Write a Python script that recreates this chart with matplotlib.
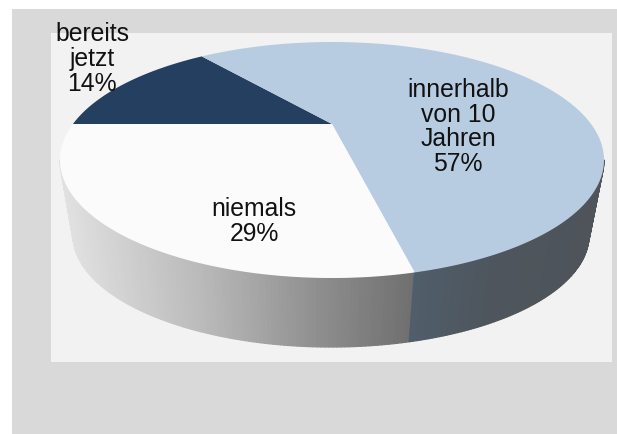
import matplotlib
matplotlib.use("Agg")
import matplotlib.pyplot as plt
from matplotlib.collections import PolyCollection
from matplotlib.patches import Rectangle
import numpy as np

plt.rcParams['font.family'] = ['Liberation Sans', 'DejaVu Sans']

# shares, clockwise starting from the left edge of the pie
labels = ["bereits\njetzt", "innerhalb\nvon 10\nJahren", "niemals"]
values = [14.3, 57.1, 28.6]
colors = ["#243f60", "#b7cce1", "#fbfbfb"]

# where the labels sit, in pixels
label_x = [92, 458, 254]
label_y = [59, 127, 221.5]

# ellipses of the top face and the bottom rim, in pixels
top = (332, 160, 272, 118)
bottom = (331, 235, 258, 112)
tilt = 0.305


def flat_to_face(ang):
    # angle on the round pie -> point on the tilted top face (unit circle)
    x, y = np.cos(ang), np.sin(ang)
    d = 1 + tilt*y
    return x*np.sqrt(1 - tilt**2)/d, (y + tilt)/d


def ell(e, x, y):
    return e[0] + e[2]*x, e[1] - e[3]*y


fig = plt.figure(figsize=(6.17, 4.34), dpi=100, facecolor="white")
ax = fig.add_axes([0, 0, 1, 1])
ax.set_xlim(0, 617)
ax.set_ylim(434, 0)
ax.axis("off")

ax.add_patch(Rectangle((12, 9), 605, 425, fc="#d9d9d9", ec="none", zorder=0))
ax.add_patch(Rectangle((51, 33), 561, 329, fc="#f2f2f2", ec="none", zorder=1))

# slice limits on the round pie
edges = np.pi - np.deg2rad(np.cumsum([0] + values)*3.6)

# side wall, thin quads between the two rims
fx, fy = flat_to_face(edges[2])
split = np.arctan2(fy, fx)
t = np.linspace(-np.pi, 0, 200)
quads = []
side = []
for a, b in zip(t[:-1], t[1:]):
    x0, y0 = ell(top, np.cos(a), np.sin(a))
    x1, y1 = ell(top, np.cos(b), np.sin(b))
    x2, y2 = ell(bottom, np.cos(b), np.sin(b))
    x3, y3 = ell(bottom, np.cos(a), np.sin(a))
    quads.append([(x0, y0), (x1, y1), (x2, y2), (x3, y3)])
    xm = (x0 + x1)/2
    if (a + b)/2 < split:
        g = np.interp(xm, [60, 200, 320, 413], [226, 186, 142, 112])
        side.append((g/255, g/255, g/255))
    else:
        r = np.interp(xm, [410, 500, 604], [80, 78, 78])
        gg = np.interp(xm, [410, 500, 604], [94, 85, 84])
        bb = np.interp(xm, [410, 500, 604], [108, 92, 90])
        side.append((r/255, gg/255, bb/255))
ax.add_collection(PolyCollection(quads, facecolors=side, edgecolors=side, linewidths=0.9, zorder=2))

# top face
cx, cy = top[0], top[1] - top[3]*tilt
for i, col in enumerate(colors):
    ang = np.linspace(edges[i], edges[i+1], 200)
    x, y = ell(top, *flat_to_face(ang))
    ax.fill(np.r_[cx, x], np.r_[cy, y], fc=col, ec="none", zorder=3)

for name, v, lx, ly in zip(labels, values, label_x, label_y):
    ax.text(lx, ly, f"{name}\n{round(v)}%", ha="center", va="center",
            fontsize=17.8, linespacing=1.03, color="#111111", zorder=5)

fig.savefig("out.png", dpi=100)
